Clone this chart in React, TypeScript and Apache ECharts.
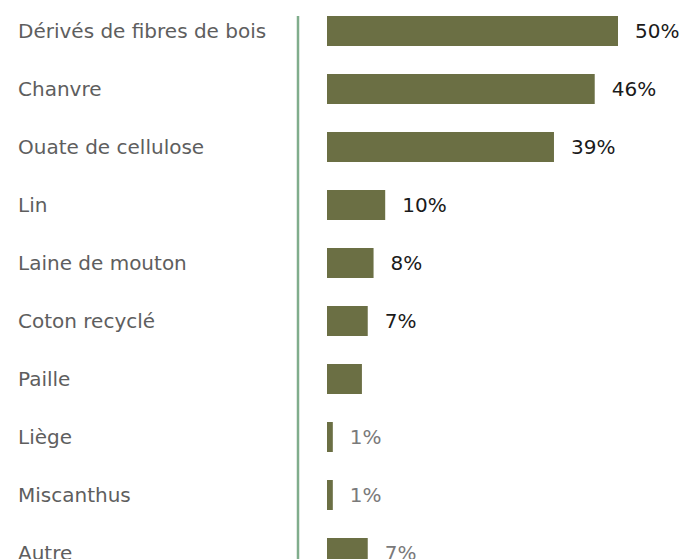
import React, { useEffect, useRef } from "react";
import * as echarts from "echarts";

const categories = [
  "Dérivés de fibres de bois",
  "Chanvre",
  "Ouate de cellulose",
  "Lin",
  "Laine de mouton",
  "Coton recyclé",
  "Paille",
  "Liège",
  "Miscanthus",
  "Autre",
];
const values = [50, 46, 39, 10, 8, 7, 6, 1, 1, 7];
const labelShown = [true, true, true, true, true, true, false, true, true, true];
const labelMuted = [false, false, false, false, false, false, false, true, true, true];

export default function App() {
  const ref = useRef<HTMLDivElement>(null);
  useEffect(() => {
    if (!ref.current) return;
    const chart = echarts.init(ref.current, undefined, { renderer: "svg" });
    const data = values.map((v, i) => ({
      value: v,
      label: {
        show: labelShown[i],
        color: labelMuted[i] ? "#7a7a7a" : "#1a1a1a",
      },
    }));
    chart.setOption({
      animation: false,
      grid: { left: 327, top: 2, height: 580, right: 68, outerBoundsMode: "none", containLabel: false },
      xAxis: { type: "value", min: 0, max: 50, show: false },
      yAxis: {
        type: "category",
        data: categories,
        inverse: true,
        axisLine: { show: false },
        axisTick: { show: false },
        axisLabel: {
          align: "left",
          margin: 309,
          color: "#5e5e5e",
          fontFamily: "DejaVu Sans",
          fontSize: 20,
        },
      },
      series: [
        {
          type: "bar",
          data,
          barWidth: 30,
          itemStyle: { color: "#6b6f44" },
          label: {
            position: "right",
            distance: 17,
            formatter: "{c}%",
            fontFamily: "DejaVu Sans",
            fontSize: 20,
          },
        },
      ],
      graphic: [
        {
          type: "line",
          shape: { x1: 298, y1: 16, x2: 298, y2: 600 },
          style: { stroke: "#80ad8c", lineWidth: 2.5 },
        },
      ],
    });
    return () => chart.dispose();
  }, []);
  return (
    <div
      style={{ position: "absolute", left: 0, top: 0, width: 686, height: 559, overflow: "hidden" }}
    >
      <div ref={ref} style={{ width: 686, height: 600 }} />
    </div>
  );
}
